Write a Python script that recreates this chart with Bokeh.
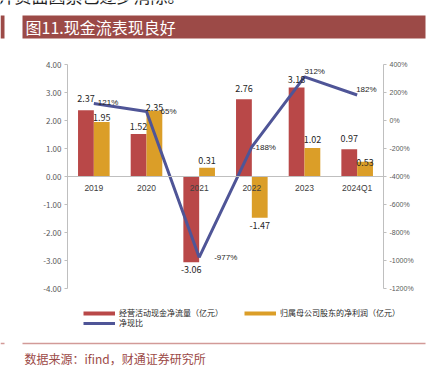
from bokeh.plotting import figure
from bokeh.models import (Range1d, LinearAxis, FixedTicker, PrintfTickFormatter,
                          ColumnDataSource, Legend, LegendItem)
from bokeh.transform import dodge
from bokeh.core.properties import value
from bokeh.embed import file_html
from bokeh.resources import INLINE

# ---------------- data ----------------
top_text = "并资面因素已逐步消除。"
title_text = "图11.现金流表现良好"
source_text = "数据来源：ifind，财通证券研究所"
categories = ["2019", "2020", "2021", "2022", "2023", "2024Q1"]
cash_flow = [2.37, 1.52, -3.06, 2.76, 3.18, 0.97]      # 经营活动现金净流量（亿元）
net_profit = [1.95, 2.35, 0.31, -1.47, 1.02, 0.53]     # 归属母公司股东的净利润（亿元）
cash_ratio = [121, 65, -977, -188, 312, 182]           # 净现比 (%)
series_names = ["经营活动现金净流量（亿元）", "归属母公司股东的净利润（亿元）", "净现比"]
left_ticks = [-4, -3, -2, -1, 0, 1, 2, 3, 4]
right_ticks = [-1200, -1000, -800, -600, -400, -200, 0, 200, 400]

# ---------------- label nudges (pixels, style only) ----------------
cash_dy = [-12, -7, 7, -11, -8, -11]
profit_dy = [-4, -3, -7, 8, -8, 1]
ratio_dx = [4, 14, 15, 1, 0, -1]
ratio_dy = [-1, 0, 0, 1, -5, -6]

RED = "#B94848"
GOLD = "#DB9E28"
BLUE = "#4F5597"
BRAND = "#9C4A47"
CJK = value("Noto Sans CJK SC")
NAN = float("nan")

# ---------------- canvas layout (pixels) ----------------
W, H = 437, 370
PL, PR = 67, 383          # plot area left / right
PT, PB = 64, 288          # plot area top / bottom

n = len(categories)
xs = list(range(n))
ux = (PR - PL) / n
x_start = -0.5 - PL / ux
x_end = n - 0.5 + (W - PR) / ux

ymin, ymax = min(left_ticks), max(left_ticks)
uy = (PB - PT) / (ymax - ymin)
rmin, rmax = min(right_ticks), max(right_ticks)
ur = (PB - PT) / (rmax - rmin)

src = ColumnDataSource(dict(
    x=xs, cat=categories, cash=cash_flow, profit=net_profit, ratio=cash_ratio,
    cash_lbl=["%.2f" % v for v in cash_flow],
    profit_lbl=["%.2f" % v for v in net_profit],
    ratio_lbl=["%d%%" % v for v in cash_ratio],
    cash_dy=cash_dy, profit_dy=profit_dy, ratio_dx=ratio_dx, ratio_dy=ratio_dy,
))

p = figure(width=W, height=H, x_range=Range1d(x_start, x_end),
           y_range=Range1d(ymin - (H - PB) / uy, ymax + PT / uy),
           x_axis_location=None, y_axis_location=None, min_border=0,
           toolbar_location=None, output_backend="svg", outline_line_color=None)
p.xgrid.grid_line_color = None
p.ygrid.grid_line_color = None
p.extra_y_ranges = {"pct": Range1d(rmin - (H - PB) / ur, rmax + PT / ur),
                    "cy": Range1d(H, 0)}
p.extra_x_ranges = {"cx": Range1d(0, W)}

# ---------------- page decoration ----------------
deco = dict(x_range_name="cx", y_range_name="cy")
p.text(x=[-3], y=[-5], text=[top_text], text_color="#222222", text_font_size="17px",
       text_baseline="middle", text_align="left", text_font=CJK, **deco)
p.quad(left=[0, 22], right=[4, 425], top=[15, 15], bottom=[38, 38],
       fill_color=BRAND, line_color=None, **deco)
p.text(x=[25], y=[26.5], text=[title_text], text_color="white", text_font_size="16px",
       text_baseline="middle", text_align="left", text_font=CJK, **deco)
p.segment(x0=[0, 22], y0=[343, 343], x1=[4, 425], y1=[343, 343],
          line_color="#D29A98", line_width=1.5, **deco)
p.text(x=[24], y=[358], text=[source_text], text_color=BRAND, text_font_size="12px",
       text_baseline="middle", text_align="left", text_font=CJK, **deco)

# ---------------- axes ----------------
ax_l = LinearAxis(ticker=FixedTicker(ticks=left_ticks),
                  formatter=PrintfTickFormatter(format="%.2f"),
                  fixed_location=-0.5, bounds=(ymin, ymax))
ax_r = LinearAxis(y_range_name="pct", ticker=FixedTicker(ticks=right_ticks),
                  formatter=PrintfTickFormatter(format="%d%%"),
                  fixed_location=n - 0.5, bounds=(rmin, rmax))
for ax in (ax_l, ax_r):
    ax.axis_line_color = "#BFBFBF"
    ax.major_tick_line_color = "#BFBFBF"
    ax.major_tick_out = 3
    ax.major_tick_in = 0
    ax.minor_tick_line_color = None
    ax.major_label_standoff = 3
    ax.major_label_text_color = "#595959"
    ax.major_label_text_font_size = "8px"
ax_l.major_label_text_font = "Noto Sans CJK SC"
ax_r.major_label_text_font = "Liberation Sans"
ax_r.major_label_text_font_size = "7px"
p.add_layout(ax_l, "left")
p.add_layout(ax_r, "right")

ax_x = LinearAxis(ticker=FixedTicker(ticks=xs),
                  major_label_overrides={i: c for i, c in zip(xs, categories)},
                  fixed_location=0, bounds=(-0.5, n - 0.5))
ax_x.axis_line_color = "#BFBFBF"
ax_x.major_tick_line_color = None
ax_x.major_tick_out = 0
ax_x.major_tick_in = 0
ax_x.minor_tick_line_color = None
ax_x.major_label_standoff = 6
ax_x.major_label_text_color = "#404040"
ax_x.major_label_text_font_size = "8.5px"
ax_x.major_label_text_font = "Liberation Sans"
p.add_layout(ax_x, "below")

# ---------------- marks ----------------
r1 = p.vbar(x=dodge("x", -0.15), top="cash", bottom=0, width=0.3,
            source=src, fill_color=RED, line_color=None)
r2 = p.vbar(x=dodge("x", 0.15), top="profit", bottom=0, width=0.3,
            source=src, fill_color=GOLD, line_color=None)
r3 = p.line(x="x", y="ratio", y_range_name="pct", source=src, line_color=BLUE, line_width=3)

p.text(x=dodge("x", -0.15), y="cash", text="cash_lbl", source=src,
       y_offset="cash_dy", text_align="center", text_baseline="middle",
       text_font_size="9px", text_color="#262626", text_font=CJK)
p.text(x=dodge("x", 0.15), y="profit", text="profit_lbl", source=src,
       y_offset="profit_dy", text_align="center", text_baseline="middle",
       text_font_size="9px", text_color="#262626", text_font=CJK)
p.text(x="x", y="ratio", y_range_name="pct", text="ratio_lbl", source=src,
       x_offset="ratio_dx", y_offset="ratio_dy", text_align="left", text_baseline="middle",
       text_font_size="8px", text_color="#262626", text_font=value("Liberation Sans"))

# legend swatches (thick strokes in the series colours; no visible data)
k1 = p.line(x=[NAN], y=[NAN], line_color=RED, line_width=4)
k2 = p.line(x=[NAN], y=[NAN], line_color=GOLD, line_width=4)

# ---------------- legend ----------------
common = dict(glyph_width=32, glyph_height=10, label_height=10, label_standoff=4,
              padding=0, margin=0, label_text_font_size="8px",
              label_text_font="Noto Sans CJK SC", label_text_color="#262626",
              border_line_color=None, background_fill_alpha=0)
leg1 = Legend(items=[LegendItem(label=series_names[0], renderers=[k1]),
                     LegendItem(label=series_names[1], renderers=[k2])],
              orientation="horizontal", spacing=21, location=(83, H - 318), **common)
leg2 = Legend(items=[LegendItem(label=series_names[2], renderers=[r3])],
              orientation="horizontal", location=(83, H - 328), **common)
p.add_layout(leg1)
p.add_layout(leg2)

open("out.html", "w").write(file_html(p, INLINE))
